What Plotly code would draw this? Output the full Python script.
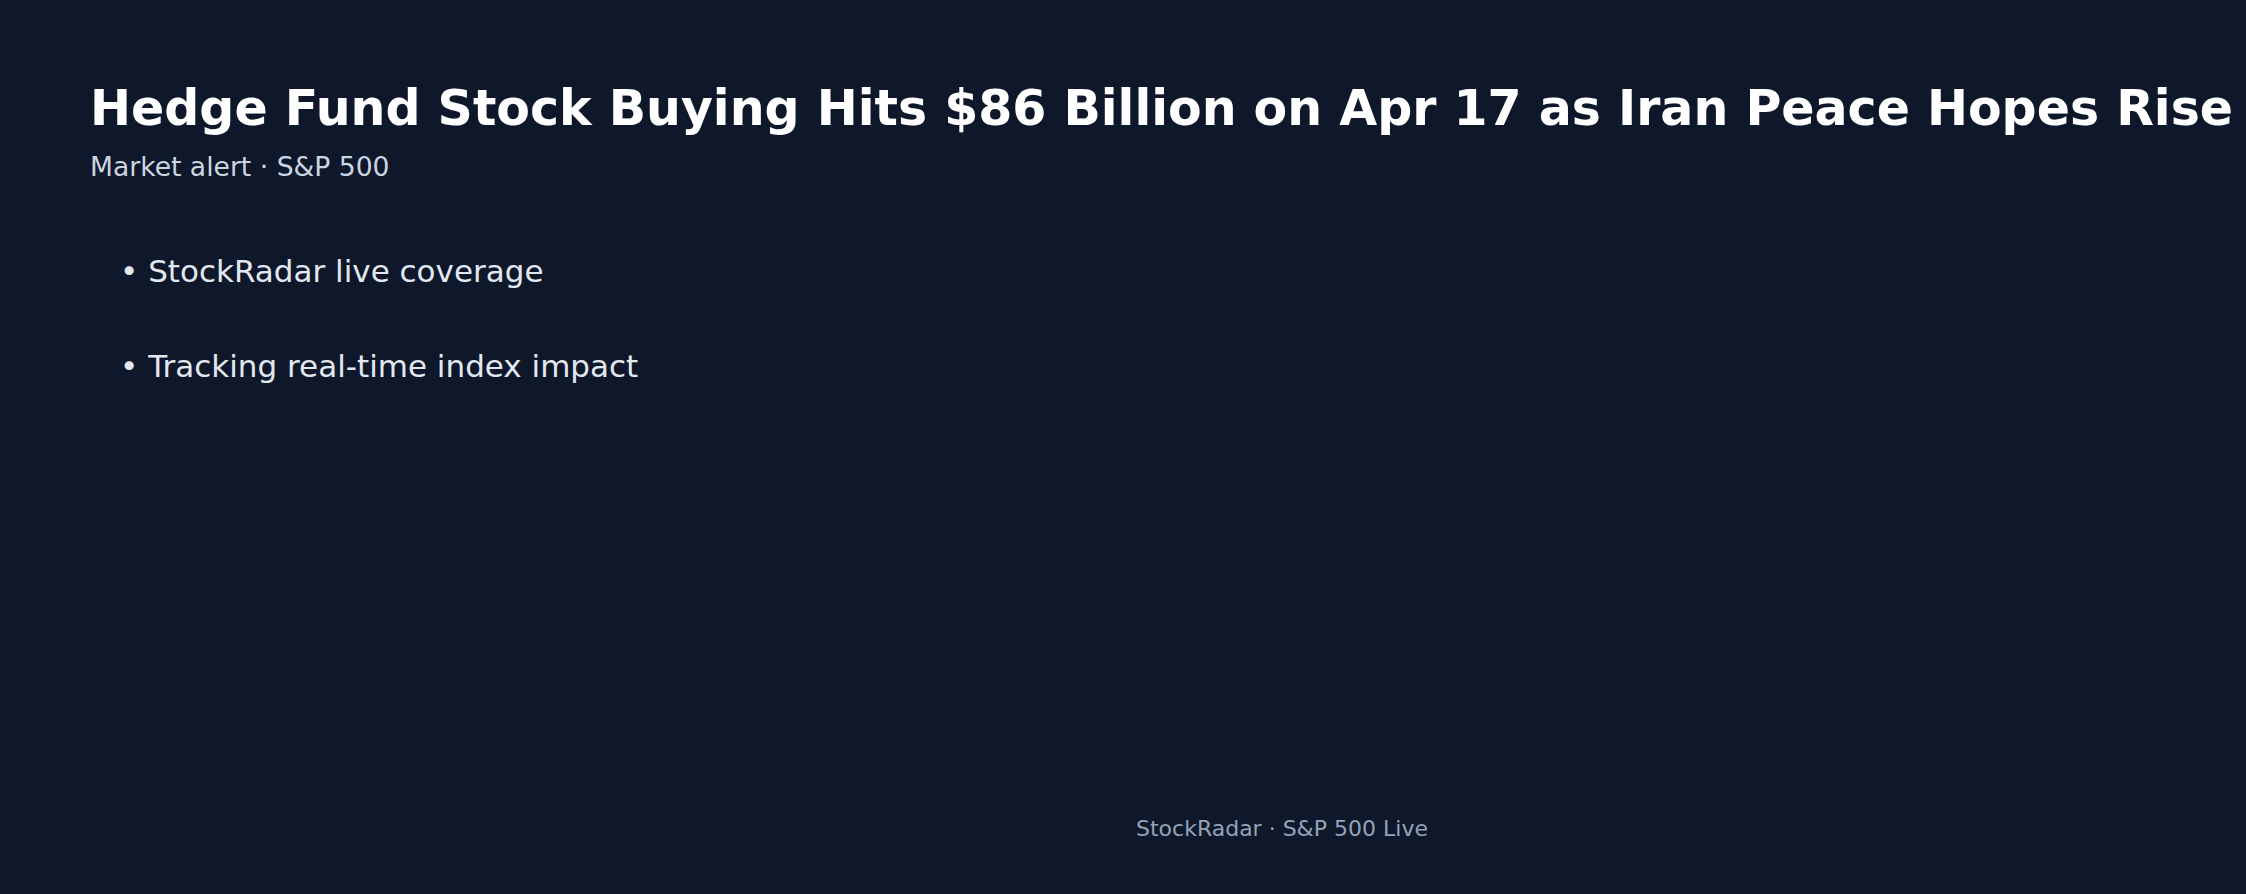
import plotly.graph_objects as go

W, H = 2246, 894
BG = "#0f172a"
FONT = "DejaVu Sans"

title_text = "Hedge Fund Stock Buying Hits $86 Billion on Apr 17 as Iran Peace Hopes Rise"
subtitle_text = "Market alert · S&P 500"
bullets = ["StockRadar live coverage", "Tracking real-time index impact"]
footer_text = "StockRadar · S&P 500 Live"


def px(x, y):
    # pixel position on the canvas -> paper coords
    return x / W, 1 - y / H


fig = go.Figure()

annotations = []

x, y = px(88, 108.5)
annotations.append(dict(
    x=x, y=y, text=title_text, xanchor="left", yanchor="middle",
    font=dict(family=FONT, size=49, color="#ffffff", weight="bold"),
))

x, y = px(88, 166)
annotations.append(dict(
    x=x, y=y, text=subtitle_text, xanchor="left", yanchor="middle",
    font=dict(family=FONT, size=26.6, color="#cbd5e1"),
))

for i, b in enumerate(bullets):
    x, y = px(118, 271 + i * 95)
    annotations.append(dict(
        x=x, y=y, text="• " + b, xanchor="left", yanchor="middle",
        font=dict(family=FONT, size=31, color="#e2e8f0"),
    ))

x, y = px(1282, 828)
annotations.append(dict(
    x=x, y=y, text=footer_text, xanchor="center", yanchor="middle",
    font=dict(family=FONT, size=22, color="#94a3b8"),
))

for a in annotations:
    a.update(xref="paper", yref="paper", showarrow=False)

fig.update_layout(
    width=W, height=H,
    margin=dict(l=0, r=0, t=0, b=0),
    paper_bgcolor=BG, plot_bgcolor=BG,
    xaxis=dict(visible=False), yaxis=dict(visible=False),
    annotations=annotations,
    showlegend=False,
)

# drop the browser's default page margin so the canvas fills the window
fig.write_html(
    "out.html",
    config={"displayModeBar": False},
    post_script="document.body.style.margin='0';document.body.style.background='%s';" % BG,
)
